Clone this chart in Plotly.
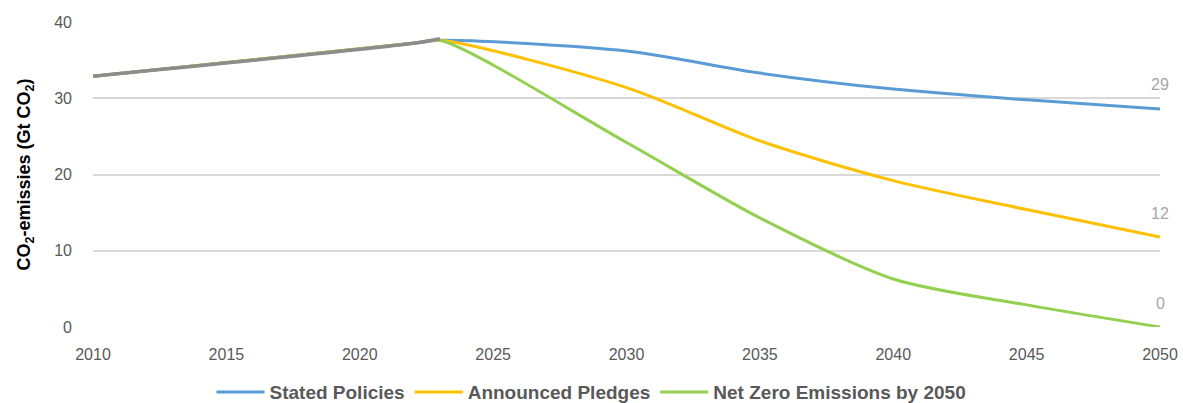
import plotly.graph_objects as go

# Years and emissions (Gt CO2) per scenario
years = [2010, 2022, 2023, 2030, 2035, 2040, 2045, 2050]
stated_policies = [32.9, 37.2, 37.6, 36.2, 33.3, 31.2, 29.8, 28.6]
announced_pledges = [32.9, 37.2, 37.6, 31.4, 24.4, 19.2, 15.4, 11.8]
net_zero_2050 = [32.9, 37.2, 37.6, 24.2, 14.3, 6.3, 2.9, 0.0]

hist_years = [2010, 2022, 2023]
historical = [32.9, 37.2, 37.8]

end_labels = ["29", "12", "0"]

series = [
    ("Stated Policies", stated_policies, "#5B9BD5"),
    ("Announced Pledges", announced_pledges, "#FFC000"),
    ("Net Zero Emissions by 2050", net_zero_2050, "#92D050"),
]

fig = go.Figure()
for name, vals, color in series:
    fig.add_trace(go.Scatter(
        x=years, y=vals, name=name, mode="lines",
        line=dict(color=color, width=3, shape="spline", smoothing=0.8),
    ))

fig.add_trace(go.Scatter(
    x=hist_years, y=historical, name="Historisch", mode="lines",
    line=dict(color="#8C8C8C", width=3.5, shape="spline", smoothing=0.8),
    showlegend=False,
))

for (name, vals, color), lab in zip(series, end_labels):
    fig.add_annotation(
        x=years[-1], y=vals[-1], text=lab, showarrow=False,
        yshift=24, xanchor="center",
        font=dict(family="Liberation Sans, Arial", size=16, color="#A6A6A6"),
    )

fig.update_layout(
    width=1183, height=403,
    margin=dict(l=93, r=23, t=22, b=76, autoexpand=False),
    paper_bgcolor="white", plot_bgcolor="white",
    font=dict(family="Liberation Sans, Arial", size=16, color="#595959"),
    legend=dict(
        orientation="h", x=0.5, xanchor="center", xref="container",
        y=0.027, yanchor="middle", yref="container",
        font=dict(family="Liberation Sans Narrow, Liberation Sans, Arial", size=19,
                  color="#595959", weight="bold"),
        itemwidth=48, tracegroupgap=0,
    ),
    xaxis=dict(
        range=[2010, 2050], tickvals=[2010, 2015, 2020, 2025, 2030, 2035, 2040, 2045, 2050],
        showgrid=False, zeroline=False, showline=False, ticks="",
        ticklabelstandoff=16,
        tickfont=dict(size=16, color="#595959"),
    ),
    yaxis=dict(
        range=[0, 40], tickvals=[0, 10, 20, 30, 40],
        showgrid=True, gridcolor="#D9D9D9", gridwidth=1.5, zeroline=False,
        ticks="", ticklabelstandoff=20,
        tickfont=dict(size=16, color="#595959"),
        title=dict(text="CO<sub>2</sub>-emissies (Gt CO<sub>2</sub>)", standoff=18,
                   font=dict(size=18, color="black", weight="bold")),
    ),
)

fig.write_html("out.html")
